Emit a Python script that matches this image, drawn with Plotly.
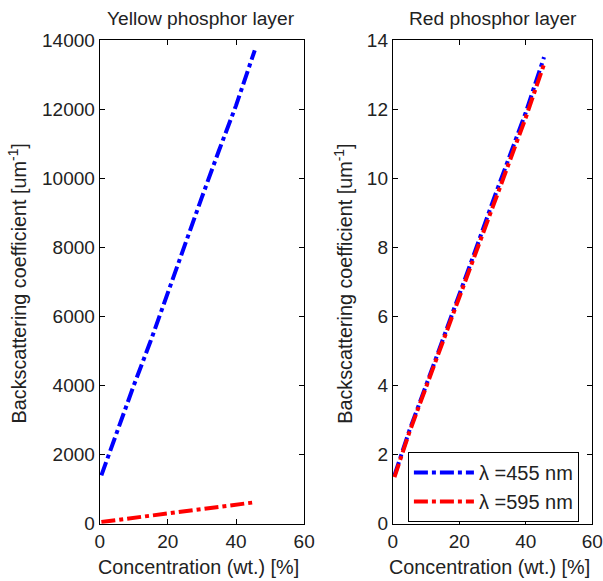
import plotly.graph_objects as go
from plotly.subplots import make_subplots

# Phosphor concentration (wt. %)
concentration = [0.5, 5, 10, 15, 20, 25, 30, 35, 40, 45.5]

# Yellow phosphor layer backscattering coefficient [um^-1]
yellow_455 = [1400, 2650, 4000, 5300, 6700, 8050, 9450, 10800, 12100, 13700]
yellow_595 = [50, 110, 170, 240, 310, 370, 430, 490, 550, 620]

# Red phosphor layer backscattering coefficient [um^-1]
red_455 = [1.40, 2.70, 4.00, 5.30, 6.65, 7.95, 9.30, 10.60, 11.90, 13.50]
red_595 = [1.35, 2.65, 3.95, 5.25, 6.55, 7.85, 9.15, 10.45, 11.75, 13.30]

x_ticks = [0, 20, 40, 60]
yellow_ticks = [0, 2000, 4000, 6000, 8000, 10000, 12000, 14000]
red_ticks = [0, 2, 4, 6, 8, 10, 12, 14]

# Layout is planned in page pixels; the page shows the figure offset by
# the body margin and slightly reduced, so page pixels are mapped back here.
OFF_X, OFF_Y, SCALE = 7.0, 8.0, 0.967
W = int(round((603 - OFF_X) / SCALE))
H = int(round((581 - OFF_Y) / SCALE))
FONT = "Liberation Sans, Arial, sans-serif"
DASH = "14px,4px,4px,4px"
BLUE = "#0000ff"
RED = "#ff0000"
INK = "#222222"


def px_x(p):
    """Page pixel column -> paper fraction."""
    return ((p - OFF_X) / SCALE) / W


def px_y(p):
    """Page pixel row -> paper fraction."""
    return 1 - ((p - OFF_Y) / SCALE) / H


fig = make_subplots(rows=1, cols=2)

line_w = 4
fig.add_trace(go.Scatter(x=concentration, y=yellow_455, mode="lines",
                         line=dict(color=BLUE, width=line_w, dash=DASH),
                         showlegend=False), row=1, col=1)
fig.add_trace(go.Scatter(x=concentration, y=yellow_595, mode="lines",
                         line=dict(color=RED, width=line_w, dash=DASH),
                         showlegend=False), row=1, col=1)
fig.add_trace(go.Scatter(x=concentration, y=red_455, mode="lines",
                         name="λ =455 nm",
                         line=dict(color=BLUE, width=line_w, dash=DASH)),
              row=1, col=2)
fig.add_trace(go.Scatter(x=concentration, y=red_595, mode="lines",
                         name="λ =595 nm",
                         line=dict(color=RED, width=line_w, dash=DASH)),
              row=1, col=2)

axis_common = dict(showline=True, linecolor="black", linewidth=1,
                   mirror="ticks", ticks="inside", ticklen=5,
                   tickcolor="black", showgrid=False, zeroline=False,
                   tickformat="d",
                   tickfont=dict(family=FONT, size=19, color=INK))

y_dom = [px_y(523), px_y(38)]
fig.update_xaxes(domain=[px_x(101), px_x(304)], range=[0, 60],
                 tickvals=x_ticks, row=1, col=1, **axis_common)
fig.update_xaxes(domain=[px_x(392), px_x(590)], range=[0, 60],
                 tickvals=x_ticks, row=1, col=2, **axis_common)
fig.update_yaxes(domain=y_dom, range=[0, 14000], tickvals=yellow_ticks,
                 row=1, col=1, **axis_common)
fig.update_yaxes(domain=y_dom, range=[0, 14], tickvals=red_ticks,
                 row=1, col=2, **axis_common)

title_font = dict(family=FONT, size=19.2, color=INK)
label_font = dict(family=FONT, size=19.8, color=INK)
annotations = [
    dict(text="Yellow phosphor layer", x=px_x(202), y=px_y(17),
         font=title_font),
    dict(text="Red phosphor layer", x=px_x(491), y=px_y(17),
         font=title_font),
    dict(text="Concentration (wt.) [%]", x=px_x(199), y=px_y(566),
         font=label_font),
    dict(text="Concentration (wt.) [%]", x=px_x(488), y=px_y(566),
         font=label_font),
    dict(text="Backscattering coefficient [um<sup>-1</sup>]",
         x=px_x(19), y=px_y(282), textangle=-90, font=label_font),
    dict(text="Backscattering coefficient [um<sup>-1</sup>]",
         x=px_x(343), y=px_y(282), textangle=-90, font=label_font),
]
for a in annotations:
    fig.add_annotation(xref="paper", yref="paper", showarrow=False,
                       xanchor="center", yanchor="middle", **a)

fig.update_layout(
    width=W, height=H,
    margin=dict(l=0, r=0, t=0, b=0),
    paper_bgcolor="white", plot_bgcolor="white",
    legend=dict(x=px_x(407), y=px_y(451), xanchor="left", yanchor="top",
                bgcolor="white", bordercolor="black", borderwidth=1,
                itemwidth=60, tracegroupgap=0,
                font=dict(family=FONT, size=20, color=INK)),
)

fig.write_html("out.html")
